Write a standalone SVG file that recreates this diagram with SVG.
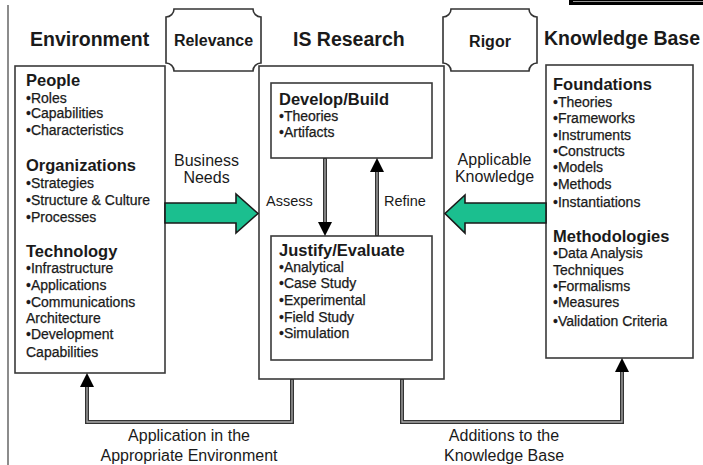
<svg xmlns="http://www.w3.org/2000/svg" width="703" height="465" viewBox="0 0 703 465">
<defs>
<style>
text{font-family:"Liberation Sans",Arial,sans-serif;fill:#1a1a1a}
.title{font-size:19.5px;font-weight:bold}
.tag{font-size:16px;font-weight:bold}
.head{font-size:16.5px;font-weight:bold}
.item{font-size:14px;stroke:#1a1a1a;stroke-width:0.25}
.lab{font-size:16px}
.small{font-size:14.5px}
.box{fill:#fff;stroke:#3a3a3a;stroke-width:1.6}
.plaque{fill:#fff;stroke:#333;stroke-width:1.6}
.wire{fill:none;stroke:#333;stroke-width:4}
.wirein{fill:none;stroke:#aaa;stroke-width:1.3}
.green{fill:#1bbf8f;stroke:#1a1a1a;stroke-width:1.6;stroke-linejoin:miter}
.head-tri{fill:#000}
</style>
</defs>
<rect x="0" y="0" width="703" height="465" fill="#fff"/>
<line x1="8" y1="5" x2="8" y2="465" stroke="#666" stroke-width="1.5"/>
<rect x="569" y="0" width="134" height="5" fill="#000"/>
<line x1="573" y1="1.5" x2="703" y2="1.5" stroke="#bbb" stroke-width="0.8"/>

<g id="titles">
<text class="title" x="30" y="46">Environment</text>
<text class="title" x="293" y="46">IS Research</text>
<text class="title" x="544" y="45">Knowledge Base</text>
</g>

<g id="relevance">
<path class="plaque" d="M174,9 H253 A8,8 0 0 0 261,17 V63 A8,8 0 0 0 253,71 H174 A8,8 0 0 0 166,63 V17 A8,8 0 0 0 174,9 Z"/>
<text class="tag" x="213.5" y="46" text-anchor="middle">Relevance</text>
</g>
<g id="rigor">
<path class="plaque" d="M451,9 H529 A8,8 0 0 0 537,17 V63 A8,8 0 0 0 529,71 H451 A8,8 0 0 0 443,63 V17 A8,8 0 0 0 451,9 Z"/>
<text class="tag" x="490" y="47" text-anchor="middle">Rigor</text>
</g>

<g id="environment">
<rect class="box" x="15" y="66" width="150" height="307"/>
<text class="head" x="26" y="86">People</text>
<text class="item" x="26" y="103">•Roles</text>
<text class="item" x="26" y="118">•Capabilities</text>
<text class="item" x="26" y="135">•Characteristics</text>
<text class="head" x="26" y="171">Organizations</text>
<text class="item" x="26" y="188">•Strategies</text>
<text class="item" x="26" y="205">•Structure &amp; Culture</text>
<text class="item" x="26" y="222">•Processes</text>
<text class="head" x="26" y="257">Technology</text>
<text class="item" x="26" y="273">•Infrastructure</text>
<text class="item" x="26" y="290">•Applications</text>
<text class="item" x="26" y="307">•Communications</text>
<text class="item" x="26" y="323">Architecture</text>
<text class="item" x="26" y="339">•Development</text>
<text class="item" x="26" y="357">Capabilities</text>
</g>

<g id="is-research">
<rect class="box" x="259" y="66" width="185" height="313"/>
</g>
<g id="develop-build">
<rect class="box" x="271" y="83" width="161" height="75"/>
<text class="head" x="279" y="105">Develop/Build</text>
<text class="item" x="279" y="121">•Theories</text>
<text class="item" x="279" y="137">•Artifacts</text>
</g>
<g id="justify-evaluate">
<rect class="box" x="271" y="236" width="161" height="124"/>
<text class="head" x="279" y="256">Justify/Evaluate</text>
<text class="item" x="279" y="272">•Analytical</text>
<text class="item" x="279" y="288">•Case Study</text>
<text class="item" x="279" y="305">•Experimental</text>
<text class="item" x="279" y="322">•Field Study</text>
<text class="item" x="279" y="338">•Simulation</text>
</g>

<g id="knowledge-base">
<rect class="box" x="546" y="65" width="147" height="293"/>
<text class="head" x="553" y="90">Foundations</text>
<text class="item" x="553" y="107">•Theories</text>
<text class="item" x="553" y="123">•Frameworks</text>
<text class="item" x="553" y="140">•Instruments</text>
<text class="item" x="553" y="156">•Constructs</text>
<text class="item" x="553" y="172">•Models</text>
<text class="item" x="553" y="189">•Methods</text>
<text class="item" x="553" y="207">•Instantiations</text>
<text class="head" x="553" y="242">Methodologies</text>
<text class="item" x="553" y="258">•Data Analysis</text>
<text class="item" x="553" y="275">Techniques</text>
<text class="item" x="553" y="291">•Formalisms</text>
<text class="item" x="553" y="307">•Measures</text>
<text class="item" x="553" y="326">•Validation Criteria</text>
</g>

<g id="connectors">
<!-- Business Needs -->
<path class="green" d="M165,203 H236 V194 L258,213.5 L236,233 V223 H165 Z"/>
<text class="lab" x="206.5" y="166" text-anchor="middle">Business</text>
<text class="lab" x="206.5" y="183" text-anchor="middle">Needs</text>
<!-- Applicable Knowledge -->
<path class="green" d="M546,203 H465 V195 L445,213.5 L465,233 V223 H546 Z"/>
<text class="lab" x="494.5" y="165" text-anchor="middle">Applicable</text>
<text class="lab" x="494.5" y="182" text-anchor="middle">Knowledge</text>
<!-- Assess -->
<line class="wire" x1="325" y1="158" x2="325" y2="223"/>
<line class="wirein" x1="325" y1="159" x2="325" y2="223"/>
<path class="head-tri" d="M318,222 H332 L325,236 Z"/>
<text class="small" x="266" y="206">Assess</text>
<!-- Refine -->
<line class="wire" x1="377" y1="236" x2="377" y2="171"/>
<line class="wirein" x1="377" y1="235" x2="377" y2="171"/>
<path class="head-tri" d="M370,172 H384 L377,158 Z"/>
<text class="small" x="384" y="206">Refine</text>
<!-- Application in the Appropriate Environment -->
<path class="wire" d="M292,379 V422 H87 V386"/>
<path class="wirein" d="M292,380 V422 H87 V386"/>
<path class="head-tri" d="M80,387 H94 L87,373 Z"/>
<text class="lab" x="189" y="441" text-anchor="middle">Application in the</text>
<text class="lab" x="189" y="461" text-anchor="middle">Appropriate Environment</text>
<!-- Additions to the Knowledge Base -->
<path class="wire" d="M402,379 V422 H622 V371"/>
<path class="wirein" d="M402,380 V422 H622 V371"/>
<path class="head-tri" d="M615,372 H629 L622,358 Z"/>
<text class="lab" x="504" y="441" text-anchor="middle">Additions to the</text>
<text class="lab" x="504" y="461" text-anchor="middle">Knowledge Base</text>
</g>
</svg>
